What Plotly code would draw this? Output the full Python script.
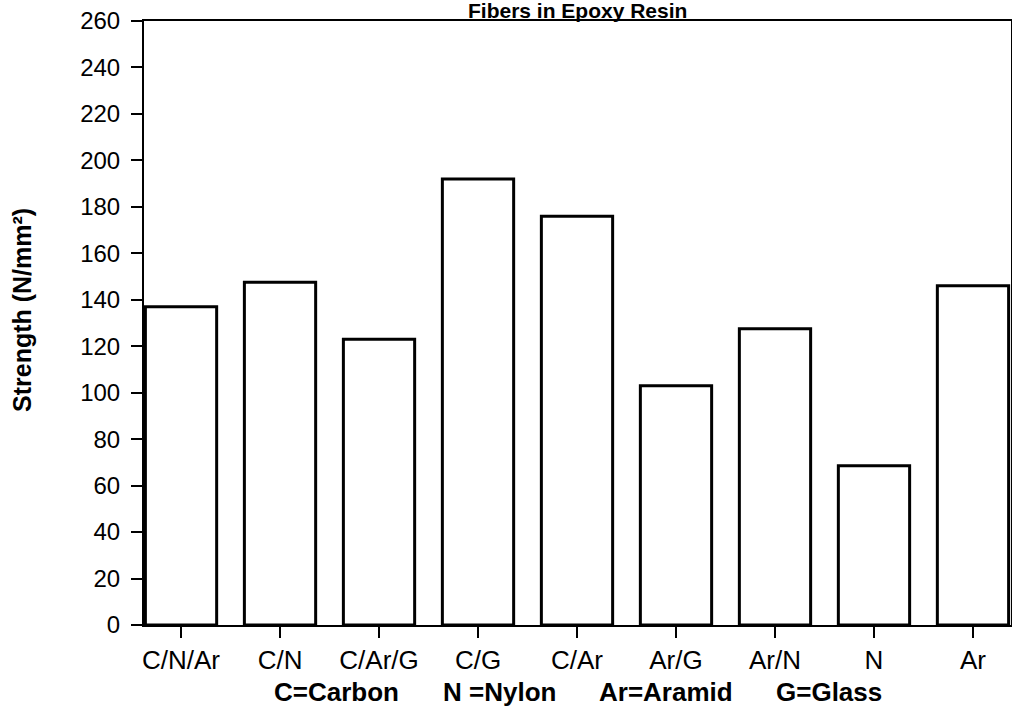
import plotly.graph_objects as go

categories = ["C/N/Ar", "C/N", "C/Ar/G", "C/G", "C/Ar", "Ar/G", "Ar/N", "N", "Ar"]
strength = [137, 147.5, 123, 192, 176, 103, 127.5, 68.5, 146]
y_ticks = list(range(0, 261, 20))
legend_parts = ["C=Carbon", "N =Nylon", "Ar=Aramid", "G=Glass"]

W, H = 1012, 713
L, R, T, B = 144, 1, 21, 88
pw = W - L - R
ph = H - T - B

fig = go.Figure()
fig.add_trace(go.Bar(
    x=categories, y=strength, width=0.72,
    marker=dict(color="white", line=dict(color="black", width=3)),
    showlegend=False,
))

font = "Liberation Sans, Arial, sans-serif"
fig.update_layout(
    width=W, height=H,
    margin=dict(l=L, r=R, t=T, b=B, autoexpand=False),
    paper_bgcolor="white", plot_bgcolor="white",
    font=dict(family=font, color="black"),
)
fig.update_xaxes(
    range=[-0.374, 8.384], showgrid=False, zeroline=False,
    showline=True, linecolor="black", linewidth=2, mirror=True,
    ticks="outside", ticklen=11, tickwidth=1.5, tickcolor="black",
    tickfont=dict(size=26, family=font, color="black"),
    automargin=False,
)
fig.update_yaxes(
    range=[0, 260], tickvals=y_ticks, showgrid=False, zeroline=False,
    showline=True, linecolor="black", linewidth=2, mirror=True,
    ticks="outside", ticklen=11, tickwidth=1.5, tickcolor="black",
    tickfont=dict(size=24, family=font, color="black"),
    ticklabelstandoff=6, automargin=False,
)
# Title (kept fully visible just above the plot frame)
fig.add_annotation(
    text="<b>Fibers in Epoxy Resin</b>",
    xref="paper", yref="paper", x=0.5, y=1.0 + 11 / ph,
    xanchor="center", yanchor="middle", showarrow=False,
    font=dict(size=21, family=font, color="black"),
)
fig.add_annotation(
    text="<b>Strength (N/mm²)</b>", textangle=-90,
    xref="paper", yref="paper", x=(22 - L) / pw, y=(H - B - 310) / ph,
    xanchor="center", yanchor="middle", showarrow=False,
    font=dict(size=25, family=font, color="black"),
)
legend_centers = [336, 499, 666, 829]
for part, cx in zip(legend_parts, legend_centers):
    fig.add_annotation(
        text="<b>" + part + "</b>",
        xref="paper", yref="paper", x=(cx - L) / pw, y=-(692 - (H - B)) / ph,
        xanchor="center", yanchor="middle", showarrow=False,
        font=dict(size=26, family=font, color="black"),
    )
fig.write_html(
    "out.html",
    config={"displayModeBar": False},
    post_script="document.body.style.margin='0';document.body.style.overflow='hidden';",
)
